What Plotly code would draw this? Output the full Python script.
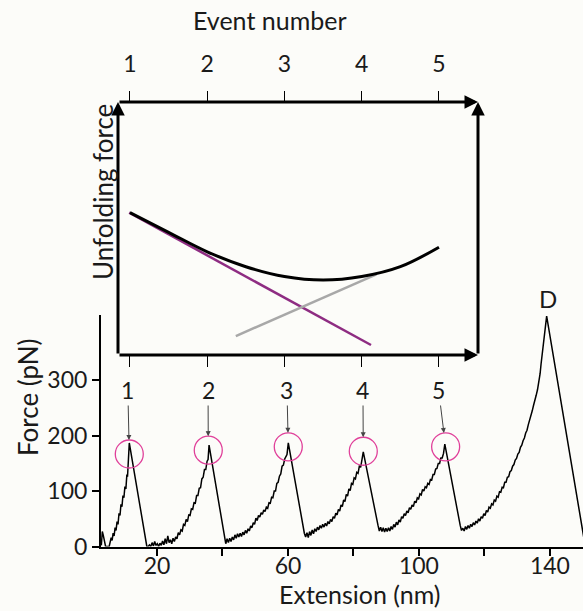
import plotly.graph_objects as go

# ---- Force-extension trace (extension in nm, force in pN), one list per sawtooth segment ----
segment_1 = [(3.0, 2), (3.3, 27), (3.6, 20), (3.9, 10), (4.3, 0), (5.4, 0), (5.7, 6), (6.0, 16), (6.3, 11),
             (6.6, 24), (6.9, 19), (7.2, 34), (7.5, 29), (7.8, 45), (8.1, 40), (8.4, 60), (8.7, 56),
             (9.0, 76), (9.3, 72), (9.6, 92), (9.9, 88), (10.2, 108), (10.5, 104), (10.8, 130),
             (11.0, 126), (11.2, 150), (11.35, 146), (11.54, 187), (16.9, 0)]
segment_2 = [(17.3, 0), (17.7, 3), (18.1, 0), (18.5, 7), (18.9, 1), (19.3, 9), (19.7, 2), (20.1, 5),
             (20.5, 0), (20.9, 6), (21.3, 2), (21.7, 10), (22.1, 3), (22.5, 14), (22.9, 5), (23.3, 19),
             (23.7, 7), (24.1, 12), (24.5, 5), (24.9, 15), (25.3, 9), (25.7, 17), (26.1, 14), (26.5, 25),
             (26.9, 21), (27.3, 30), (27.7, 28), (28.1, 40), (28.5, 38), (28.9, 49), (29.3, 45),
             (29.7, 57), (30.1, 56), (30.5, 68), (30.9, 67), (31.3, 79), (31.7, 78), (32.1, 92),
             (32.5, 92), (32.9, 105), (33.3, 106), (33.7, 122), (34.1, 125), (34.5, 139), (34.9, 139),
             (35.3, 154), (35.6, 157), (35.9, 183), (40.7, 11)]
segment_3 = [(41.0, 5), (41.4, 14), (41.8, 7), (42.2, 15), (42.6, 9), (43.0, 17), (43.4, 12), (43.8, 21),
             (44.2, 15), (44.6, 23), (45.0, 17), (45.4, 24), (45.8, 18), (46.2, 26), (46.6, 21),
             (47.0, 29), (47.4, 24), (47.8, 32), (48.2, 28), (48.6, 37), (49.0, 34), (49.4, 43),
             (49.8, 40), (50.2, 51), (50.6, 47), (51.0, 56), (51.4, 53), (51.8, 61), (52.2, 58),
             (52.6, 66), (53.0, 63), (53.4, 71), (53.8, 69), (54.2, 79), (54.6, 78), (55.0, 89),
             (55.4, 88), (55.8, 100), (56.2, 100), (56.6, 114), (57.0, 116), (57.4, 127), (57.8, 131),
             (58.2, 145), (58.6, 147), (59.0, 158), (59.4, 163), (59.7, 166), (60.1, 187), (64.6, 32)]
segment_4 = [(65.0, 24), (65.4, 17), (65.8, 25), (66.2, 16), (66.6, 27), (67.0, 20), (67.4, 30),
             (67.8, 23), (68.2, 32), (68.6, 27), (69.0, 35), (69.4, 30), (69.8, 38), (70.2, 33),
             (70.6, 40), (71.0, 35), (71.4, 42), (71.8, 37), (72.2, 45), (72.6, 41), (73.0, 49),
             (73.4, 45), (73.8, 54), (74.2, 51), (74.6, 60), (75.0, 57), (75.4, 67), (75.8, 64),
             (76.2, 75), (76.6, 72), (77.0, 84), (77.4, 81), (77.8, 94), (78.2, 91), (78.6, 104),
             (79.0, 101), (79.4, 114), (79.8, 112), (80.2, 124), (80.6, 122), (81.0, 134), (81.4, 132),
             (81.8, 145), (82.2, 143), (82.6, 155), (83.0, 171), (87.5, 38)]
segment_5 = [(87.9, 28), (88.3, 35), (88.7, 27), (89.1, 34), (89.5, 26), (89.9, 33), (90.3, 27),
             (90.7, 34), (91.1, 28), (91.5, 36), (91.9, 31), (92.3, 40), (92.7, 35), (93.1, 44),
             (93.5, 39), (93.9, 48), (94.3, 44), (94.7, 54), (95.1, 51), (95.5, 59), (95.9, 56),
             (96.3, 64), (96.7, 61), (97.1, 70), (97.5, 67), (97.9, 75), (98.3, 72), (98.7, 82),
             (99.1, 79), (99.5, 88), (99.9, 86), (100.3, 95), (100.7, 93), (101.1, 103), (101.5, 100),
             (101.9, 108), (102.3, 106), (102.7, 114), (103.1, 112), (103.5, 121), (103.9, 120),
             (104.3, 130), (104.7, 130), (105.1, 140), (105.5, 141), (105.9, 150), (106.3, 150),
             (106.7, 160), (107.1, 160), (107.5, 168), (107.9, 185), (112.6, 38), (113.0, 29)]
segment_d = [(113.4, 33), (113.8, 28), (114.2, 36), (114.6, 31), (115.0, 38), (115.4, 33), (115.8, 40),
             (116.2, 36), (116.6, 43), (117.0, 39), (117.4, 46), (117.8, 42), (118.2, 50), (118.6, 46),
             (119.0, 54), (119.4, 51), (119.8, 59), (120.2, 56), (120.6, 65), (121.0, 62), (121.4, 71),
             (121.8, 69), (122.2, 77), (122.6, 75), (123.0, 84), (123.4, 82), (123.8, 91), (124.2, 89),
             (124.6, 99), (125.0, 98), (125.4, 107), (125.8, 106), (126.2, 116), (126.6, 116),
             (127.0, 125), (127.4, 126), (127.8, 135), (128.2, 137), (128.6, 145), (129.0, 148),
             (129.4, 156), (129.8, 159), (130.2, 167), (130.6, 170), (131.0, 179), (131.4, 183),
             (131.8, 191), (132.2, 196), (132.6, 205), (133.0, 210), (133.4, 220), (133.8, 227),
             (134.2, 238), (134.6, 245), (135.0, 255), (135.4, 262), (135.8, 273), (136.2, 283),
             (136.6, 297), (137.0, 312), (137.3, 330), (137.6, 346), (137.9, 362), (138.2, 378),
             (138.5, 394), (138.8, 406), (139.0, 416), (150.8, 0)]

# Unfolding events: label positions and highlighted circle centres
event_labels = ["1", "2", "3", "4", "5"]
label_ext = [11.1, 35.6, 59.7, 82.9, 106.0]
label_force = 282.6
circle_ext = [11.54, 35.66, 60.09, 83.0, 108.15]
circle_force = [167, 174, 180, 172, 180]

# Main axis ticks
x_ticks = [20, 40, 60, 80, 100, 120, 140]
x_ticktext = ["20", "", "60", "", "100", "", "140"]
y_ticks = [0, 100, 200, 300]

# ---- Inset: unfolding force vs event number (arbitrary units) ----
event_numbers = [1, 2, 3, 4, 5]
combined_event = [1.0, 1.5, 2.0, 2.5, 3.0, 3.5, 4.0, 4.5, 5.0]
combined_force = [0.5625, 0.485, 0.408, 0.349, 0.310, 0.296, 0.310, 0.349, 0.426]
decreasing_event = [0.99, 4.12]
decreasing_force = [0.5625, 0.0395]
increasing_event = [2.37, 4.19]
increasing_force = [0.075, 0.319]

W, H = 583, 611
FONT = "Lato"
INK = "#1a1a1a"
BG = "#fcfcf9"
PINK = "#e0409a"

all_points = segment_1 + segment_2 + segment_3 + segment_4 + segment_5 + segment_d
ext = [p[0] for p in all_points]
force = [p[1] for p in all_points]

fig = go.Figure()

fig.add_trace(go.Scatter(x=ext, y=force, mode="lines", line=dict(color="black", width=1.5),
                         xaxis="x", yaxis="y", hoverinfo="skip"))

fig.add_trace(go.Scatter(x=decreasing_event, y=decreasing_force, mode="lines",
                         line=dict(color="#8e2c82", width=2.5), xaxis="x2", yaxis="y2"))
fig.add_trace(go.Scatter(x=increasing_event, y=increasing_force, mode="lines",
                         line=dict(color="#a8a8a8", width=2.5), xaxis="x2", yaxis="y2"))
fig.add_trace(go.Scatter(x=combined_event, y=combined_force, mode="lines",
                         line=dict(color="black", width=3, shape="spline", smoothing=1.0),
                         xaxis="x2", yaxis="y2"))
# carrier for the bottom tick row of the inset
fig.add_trace(go.Scatter(x=[1], y=[0.5], mode="markers", marker=dict(opacity=0),
                         xaxis="x3", yaxis="y2", hoverinfo="skip"))

def px_x(p):
    return p / W

def px_y(p):
    return 1 - p / H

inset_range = [0.845, 5.505]

fig.update_layout(
    template="none",
    width=W, height=H, autosize=False,
    margin=dict(l=0, r=0, t=0, b=0, pad=0),
    paper_bgcolor=BG, plot_bgcolor="rgba(0,0,0,0)",
    showlegend=False,
    font=dict(family=FONT, size=22, color=INK),
    xaxis=dict(domain=[px_x(101), 1.0], range=[2.9, 150.1], anchor="y", automargin=False,
               showline=True, linecolor="black", linewidth=2, mirror=False,
               ticks="outside", ticklen=7, tickwidth=2, tickcolor="black",
               tickvals=x_ticks, ticktext=x_ticktext, tickfont=dict(size=23),
               ticklabelstandoff=-9, showgrid=False, zeroline=False),
    yaxis=dict(domain=[px_y(546.5), px_y(315)], range=[0, 418], anchor="x", automargin=False,
               showline=True, linecolor="black", linewidth=2,
               ticks="outside", ticklen=7, tickwidth=2, tickcolor="black",
               tickvals=y_ticks, tickfont=dict(size=23),
               showgrid=False, zeroline=False),
    xaxis2=dict(domain=[px_x(118), px_x(478)], range=inset_range, anchor="y2", side="top",
                automargin=False, showline=False, ticks="outside", ticklen=10, tickwidth=1.3,
                tickcolor="black", tickvals=event_numbers, tickfont=dict(size=23),
                ticklabelstandoff=10, showgrid=False, zeroline=False),
    xaxis3=dict(domain=[px_x(118), px_x(478)], range=inset_range, anchor="y2", side="bottom",
                automargin=False, overlaying="x2", showline=False, ticks="outside", ticklen=11,
                tickwidth=1.3, tickcolor="black", tickvals=event_numbers, showticklabels=False,
                showgrid=False, zeroline=False),
    yaxis2=dict(domain=[px_y(355), px_y(102)], range=[0, 1], anchor="x2", visible=False,
                automargin=False),
)

annotations = []

# inset frame drawn as four arrows
frame = [
    (inset_range[0], 0, inset_range[0], 1),   # left, pointing up
    (inset_range[0], 1, inset_range[1], 1),   # top, pointing right
    (inset_range[1], 0, inset_range[1], 1),   # right, pointing up
    (inset_range[0], 0, inset_range[1], 0),   # bottom, pointing right
]
for x0, y0, x1, y1 in frame:
    annotations.append(dict(x=x1, y=y1, ax=x0, ay=y0, xref="x2", yref="y2", axref="x2", ayref="y2",
                            text="", showarrow=True, arrowhead=2, arrowsize=0.9, arrowwidth=3,
                            arrowcolor="black", standoff=0, startstandoff=0))

# event labels with arrows to the circled peaks
for lab, lx, cx, cy in zip(event_labels, label_ext, circle_ext, circle_force):
    annotations.append(dict(x=cx, y=cy, ax=lx, ay=label_force, xref="x", yref="y", axref="x", ayref="y",
                            text=lab, showarrow=True, arrowhead=2, arrowsize=1, arrowwidth=1,
                            arrowcolor="#444444", standoff=14, font=dict(size=23, color=INK)))

def label(x, y, text, xref="paper", angle=0, size=26):
    return dict(x=x, y=y, xref=xref, yref="paper", text=text, textangle=angle, showarrow=False,
                xanchor="center", yanchor="middle", font=dict(size=size, color=INK))

annotations += [
    label(139.4, px_y(298), "D", xref="x", size=24),
    label(px_x(28), px_y(397), "Force (pN)", angle=-90),
    label(px_x(360), px_y(594), "Extension (nm)", size=25),
    label(px_x(270), px_y(20), "Event number", size=25),
    label(px_x(103), px_y(192), "Unfolding force", angle=-90),
]
fig.update_layout(annotations=annotations)

# pink circles around the unfolding peaks
shapes = []
for cx, cy in zip(circle_ext, circle_force):
    shapes.append(dict(type="circle", xref="x", yref="y", xsizemode="pixel", ysizemode="pixel",
                       xanchor=cx, yanchor=cy, x0=-14, x1=14, y0=-14, y1=14,
                       line=dict(color=PINK, width=1.3)))
fig.update_layout(shapes=shapes)

fig.write_html("out.html", config={"responsive": False})
